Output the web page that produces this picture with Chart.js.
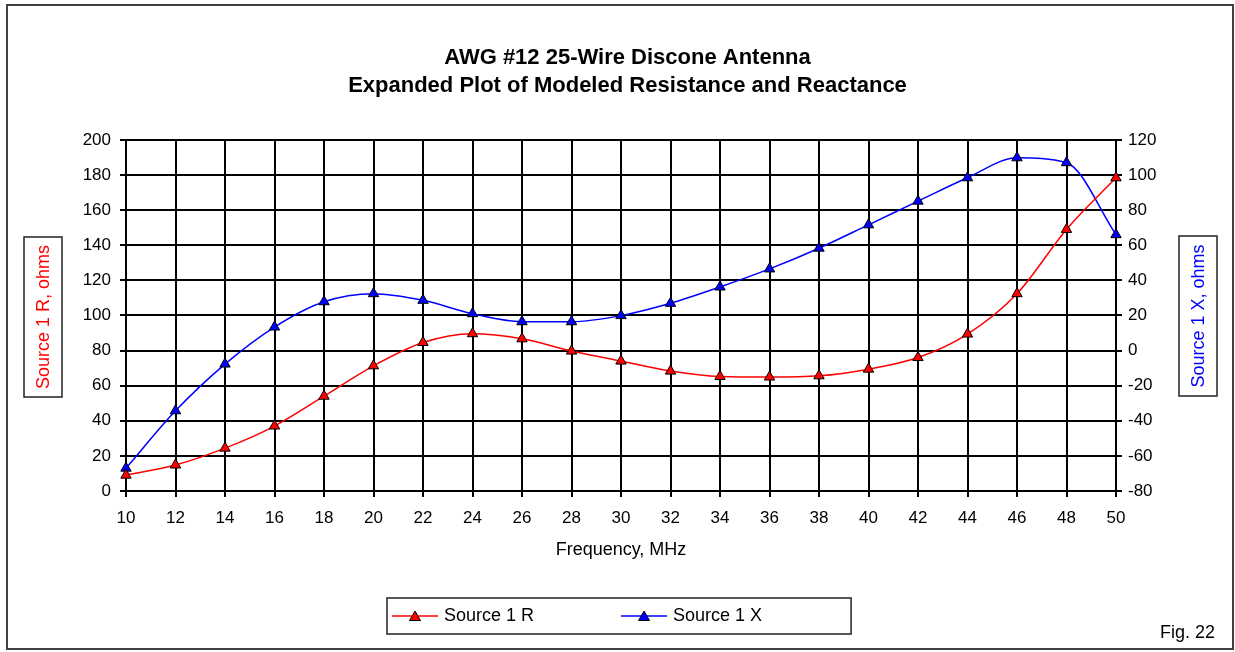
<!DOCTYPE html>
<html>
<head>
<meta charset="utf-8">
<title>AWG #12 25-Wire Discone Antenna</title>
<script src="https://cdn.jsdelivr.net/npm/chart.js@4.4.1/dist/chart.umd.min.js"></script>
<style>
  html, body { margin: 0; padding: 0; background: #fff; }
</style>
</head>
<body>
<canvas id="chart" width="1235" height="652"></canvas>
<script>
// values
const frequencies = [10, 12, 14, 16, 18, 20, 22, 24, 26, 28, 30, 32, 34, 36, 38, 40, 42, 44, 46, 48, 50];
const sourceR = [9, 14.8, 24.4, 37, 54, 71.3, 84.6, 89.6, 86.7, 79.7, 74, 68.3, 65.2, 64.9, 65.6, 69.4, 76, 89.4, 112.4, 149, 178.4];
const sourceX = [-67, -34.3, -7.7, 13.4, 27.8, 32.4, 28.6, 21, 16.4, 16.4, 19.9, 26.9, 36.2, 46.5, 58.3, 71.6, 85.1, 98.4, 109.8, 107, 66];

const rTicks = [0, 20, 40, 60, 80, 100, 120, 140, 160, 180, 200];
const xTicks = [-80, -60, -40, -20, 0, 20, 40, 60, 80, 100, 120];

const titleLines = ["AWG #12 25-Wire Discone Antenna", "Expanded Plot of Modeled Resistance and Reactance"];
const seriesNames = ["Source 1 R", "Source 1 X"];
const seriesColors = ["#ff0000", "#0000ff"];

const FONT = "'Liberation Sans', Arial, sans-serif";
Chart.defaults.font.family = FONT;
Chart.defaults.color = "#000";

// line + triangle sample used as legend symbol
function legendMarker(color) {
    const c = document.createElement("canvas");
    c.width = 46;
    c.height = 16;
    const g = c.getContext("2d");
    g.strokeStyle = color;
    g.lineWidth = 1.5;
    g.beginPath();
    g.moveTo(0, 8);
    g.lineTo(46, 8);
    g.stroke();
    g.beginPath();
    g.moveTo(23, 3);
    g.lineTo(28.5, 12.5);
    g.lineTo(17.5, 12.5);
    g.closePath();
    g.fillStyle = color;
    g.fill();
    g.strokeStyle = "#000";
    g.lineWidth = 1;
    g.stroke();
    return c;
}
const legendMarkers = seriesColors.map(legendMarker);

// nudge title and legend to where the original has them
const placeBoxes = {
    id: "placeBoxes",
    afterLayout(chart) {
        const t = chart.titleBlock;
        t.left += 10;
        t.right += 10;

        const lg = chart.legend;
        const pad = lg.options.labels.padding;
        lg.left = 395 - pad;
        lg.right = lg.left + 600;
        lg.top = 607 - pad;
        lg.bottom = chart.height;
    }
};

function boxedVerticalText(ctx, text, color, x0, y0, w, h) {
    ctx.save();
    ctx.strokeStyle = "#222";
    ctx.lineWidth = 1.5;
    ctx.strokeRect(x0, y0, w, h);
    ctx.translate(x0 + w / 2, y0 + h / 2);
    ctx.rotate(-Math.PI / 2);
    ctx.fillStyle = color;
    ctx.font = "18px " + FONT;
    ctx.textAlign = "center";
    ctx.textBaseline = "middle";
    ctx.fillText(text, 0, 1);
    ctx.restore();
}

const decorations = {
    id: "decorations",
    beforeDraw(chart) {
        const ctx = chart.ctx;
        ctx.save();
        ctx.fillStyle = "#fff";
        ctx.fillRect(0, 0, chart.width, chart.height);
        ctx.restore();
    },
    afterDraw(chart) {
        const ctx = chart.ctx;
        ctx.save();
        // outer frame
        ctx.strokeStyle = "#404040";
        ctx.lineWidth = 2;
        ctx.strokeRect(7, 5, 1226, 644);

        // legend frame
        const hb = chart.legend.legendHitBoxes;
        if (hb.length) {
            const first = hb[0];
            const last = hb[hb.length - 1];
            const x0 = first.left - 8;
            const x1 = last.left + last.width + 89;
            ctx.strokeStyle = "#222";
            ctx.lineWidth = 1.5;
            ctx.strokeRect(x0, first.top - 9, x1 - x0, first.height + 18);
        }

        ctx.fillStyle = "#000";
        ctx.font = "18px " + FONT;
        ctx.textAlign = "left";
        ctx.textBaseline = "alphabetic";
        ctx.fillText("Fig. 22", 1160, 638);
        ctx.restore();

        boxedVerticalText(ctx, "Source 1 R, ohms", "#ff0000", 24, 237, 38, 160);
        boxedVerticalText(ctx, "Source 1 X, ohms", "#0000ff", 1179, 236, 38, 160);
    }
};

new Chart(document.getElementById("chart"), {
    type: "line",
    data: {
        labels: frequencies,
        datasets: [
            {
                label: seriesNames[0],
                data: sourceR,
                yAxisID: "y",
                borderColor: seriesColors[0],
                backgroundColor: seriesColors[0],
                borderWidth: 1.5,
                cubicInterpolationMode: "monotone",
                pointStyle: "triangle",
                pointRadius: 6,
                pointBackgroundColor: seriesColors[0],
                pointBorderColor: "#000",
                pointBorderWidth: 1,
                clip: false
            },
            {
                label: seriesNames[1],
                data: sourceX,
                yAxisID: "y1",
                borderColor: seriesColors[1],
                backgroundColor: seriesColors[1],
                borderWidth: 1.5,
                cubicInterpolationMode: "monotone",
                pointStyle: "triangle",
                pointRadius: 6,
                pointBackgroundColor: seriesColors[1],
                pointBorderColor: "#000",
                pointBorderWidth: 1,
                clip: false
            }
        ]
    },
    options: {
        responsive: false,
        animation: false,
        devicePixelRatio: 1,
        events: [],
        layout: { padding: { left: 0, right: 0, top: 0, bottom: 18 } },
        plugins: {
            title: {
                display: true,
                text: titleLines,
                color: "#000",
                font: { size: 22, weight: "bold", lineHeight: 1.27 },
                padding: { top: 44, bottom: 40 }
            },
            legend: {
                display: true,
                position: "bottom",
                align: "start",
                maxHeight: 36,
                labels: {
                    usePointStyle: true,
                    pointStyleWidth: 40,
                    padding: 90,
                    color: "#000",
                    font: { size: 18 },
                    generateLabels: chart =>
                        chart.data.datasets.map((ds, i) => ({
                            text: ds.label,
                            pointStyle: legendMarkers[i],
                            fillStyle: ds.borderColor,
                            strokeStyle: ds.borderColor,
                            lineWidth: 0,
                            fontColor: "#000",
                            hidden: false,
                            datasetIndex: i
                        }))
                }
            },
            tooltip: { enabled: false }
        },
        scales: {
            x: {
                type: "category",
                position: "bottom",
                offset: false,
                afterFit: s => { s.height = 107; },
                grid: { color: "#000", lineWidth: 2, tickLength: 6, tickColor: "#000" },
                border: { color: "#000", width: 2 },
                ticks: { color: "#000", font: { size: 17 }, padding: 11, autoSkip: false, maxRotation: 0 },
                title: {
                    display: true,
                    text: "Frequency, MHz",
                    color: "#000",
                    font: { size: 18 },
                    padding: { top: 0, bottom: 37 }
                }
            },
            y: {
                type: "linear",
                position: "left",
                min: rTicks[0],
                max: rTicks[rTicks.length - 1],
                afterFit: s => { s.width = 126; },
                afterBuildTicks: s => { s.ticks = rTicks.map(v => ({ value: v })); },
                grid: { color: "#000", lineWidth: 2, tickLength: 6, tickColor: "#000" },
                border: { color: "#000", width: 2 },
                ticks: { color: "#000", font: { size: 17 }, padding: 9 }
            },
            y1: {
                type: "linear",
                position: "right",
                min: xTicks[0],
                max: xTicks[xTicks.length - 1],
                afterFit: s => { s.width = 119; },
                afterBuildTicks: s => { s.ticks = xTicks.map(v => ({ value: v })); },
                grid: { drawOnChartArea: false, color: "#000", lineWidth: 2, tickLength: 6, tickColor: "#000" },
                border: { color: "#000", width: 2 },
                ticks: { color: "#000", font: { size: 17 }, padding: 6 }
            }
        }
    },
    plugins: [placeBoxes, decorations]
});
</script>
</body>
</html>
